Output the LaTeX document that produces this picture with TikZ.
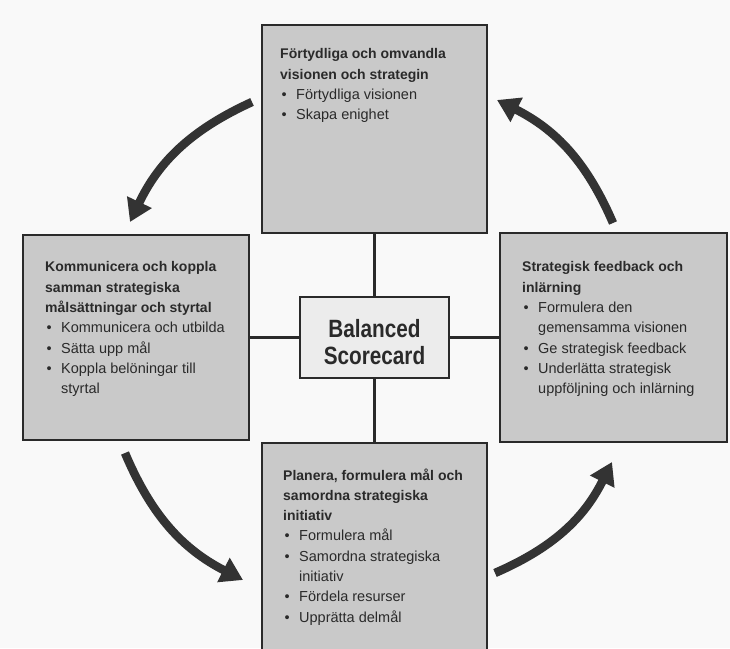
\documentclass[tikz,border=0pt]{standalone}
\usepackage{fontspec}
\setmainfont{Liberation Sans}
\newfontfamily\narrowfont[FakeStretch=0.83]{Liberation Sans}
\usetikzlibrary{arrows.meta}

\definecolor{panel}{HTML}{C9C9C9}
\definecolor{hubfill}{HTML}{ECECEC}
\definecolor{ink}{HTML}{2A2A2A}
\definecolor{arrowink}{HTML}{333333}
\definecolor{paper}{HTML}{F9F9F9}

% bullet line, continuation line and bold heading inside a panel
\newcommand\bul[1]{\makebox[16pt][l]{\hspace{1.5pt}\textbullet}#1}
\newcommand\cont[1]{\hspace*{16pt}#1}
\newcommand\headline[1]{{\bfseries\fontsize{14}{20.3}\selectfont #1}}
\newcommand\panelbody[1]{\parbox[t]{205pt}{\raggedright\fontsize{14.5}{20.3}\selectfont #1}}

\tikzset{
  panelbox/.style={draw=ink, line width=1.8pt, fill=panel, inner sep=0pt},
  hubbox/.style={draw=ink, line width=1.8pt, fill=hubfill, inner sep=0pt,
                 minimum width=149pt, minimum height=81pt},
  textblock/.style={anchor=base west, inner sep=0pt, text=ink},
  link/.style={draw=ink, line width=2.6pt},
  flow/.style={draw=arrowink, line width=8.5pt,
               -{Triangle[length=22pt,width=26pt]}},
}

\begin{document}
\begin{tikzpicture}[x=1pt,y=1pt]
\useasboundingbox (0,0) rectangle (730,648);
\clip (0,0) rectangle (730,648);
\fill[paper] (0,0) rectangle (730,648);

% the four panels
\node[panelbox, minimum width=225pt, minimum height=208pt] (top)    at (374.5,519)   {};
\node[panelbox, minimum width=226pt, minimum height=205pt] (left)   at (136,310.5)   {};
\node[panelbox, minimum width=227pt, minimum height=209pt] (right)  at (613.5,310.5) {};
\node[panelbox, minimum width=225pt, minimum height=220pt] (bottom) at (374.5,95)    {};

% hub and its spokes
\node[hubbox] (hub) at (374.5,310.5) {};
\draw[link] (top) -- (hub);
\draw[link] (hub) -- (bottom);
\draw[link] (left) -- (hub);
\draw[link] (hub) -- (right);

\node[anchor=base, inner sep=0pt, text=ink] (hubText) at (374.5,310)
  {\parbox[t]{140pt}{\centering\narrowfont\bfseries\fontsize{25}{27}\selectfont Balanced\\Scorecard}};

% panel texts
\node[textblock] (topText) at (280,589) {\panelbody{%
  \headline{Förtydliga och omvandla}\\
  \headline{visionen och strategin}\\
  \bul{Förtydliga visionen}\\
  \bul{Skapa enighet}}};

\node[textblock] (leftText) at (45,376) {\panelbody{%
  \headline{Kommunicera och koppla}\\
  \headline{samman strategiska}\\
  \headline{målsättningar och styrtal}\\
  \bul{Kommunicera och utbilda}\\
  \bul{Sätta upp mål}\\
  \bul{Koppla belöningar till}\\
  \cont{styrtal}}};

\node[textblock] (rightText) at (522,376) {\panelbody{%
  \headline{Strategisk feedback och}\\
  \headline{inlärning}\\
  \bul{Formulera den}\\
  \cont{gemensamma visionen}\\
  \bul{Ge strategisk feedback}\\
  \bul{Underlätta strategisk}\\
  \cont{uppföljning och inlärning}}};

\node[textblock] (bottomText) at (283,168) {\panelbody{%
  \headline{Planera, formulera mål och}\\
  \headline{samordna strategiska}\\
  \headline{initiativ}\\
  \bul{Formulera mål}\\
  \bul{Samordna strategiska}\\
  \cont{initiativ}\\
  \bul{Fördela resurser}\\
  \bul{Upprätta delmål}}};

% cycle arrows
\coordinate (tlS) at (252,546);  \coordinate (tlE) at (130,426);
\coordinate (blS) at (125,195);  \coordinate (blE) at (243,68);
\coordinate (brS) at (495,75);   \coordinate (brE) at (612,186);
\coordinate (trS) at (613,425);  \coordinate (trE) at (497,548);
\draw[flow] (tlS) to[bend right=20] (tlE);
\draw[flow] (blS) to[bend right=20] (blE);
\draw[flow] (brS) to[bend right=20] (brE);
\draw[flow] (trS) to[bend right=20] (trE);
\end{tikzpicture}
\end{document}
